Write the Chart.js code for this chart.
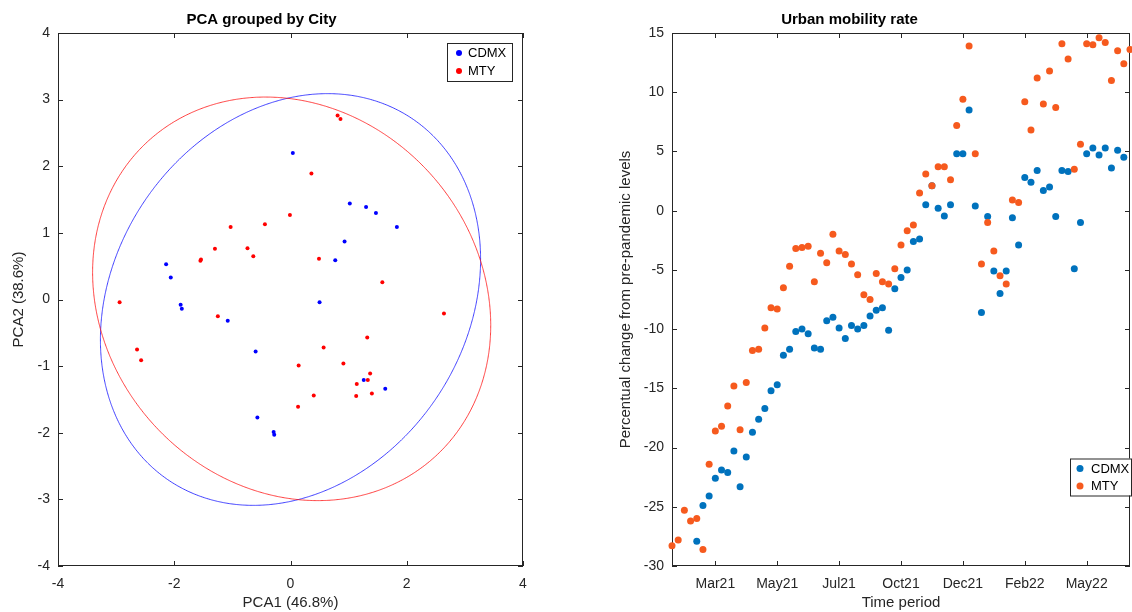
<!DOCTYPE html>
<html>
<head>
<meta charset="utf-8">
<title>PCA and urban mobility</title>
<script src="https://cdn.jsdelivr.net/npm/chart.js@4.4.1/dist/chart.umd.min.js"></script>
<style>
  html, body { margin: 0; padding: 0; background: #fff; overflow: hidden; }
  #wrap { position: relative; width: 1132px; height: 612px; overflow: hidden; }
  .panel { position: absolute; top: 0; }
  #pcaPanel { left: 0; }
  #mobilityPanel { left: 566px; }
</style>
</head>
<body>
<div id="wrap">
  <div class="panel" id="pcaPanel"><canvas id="pcaChart" width="566" height="612"></canvas></div>
  <div class="panel" id="mobilityPanel"><canvas id="mobilityChart" width="568" height="612"></canvas></div>
</div>
<script>
const FONT = '"Liberation Sans", Arial, Helvetica, sans-serif';
const AXIS_COLOR = '#262626';

// PCA scores, one point per observation
const cdmxPC1 = [0.04, 1.02, 1.30, 1.47, 1.83, 0.93, 0.77, -2.14, -2.06, -1.89, -1.87, -1.08, 0.50, -0.60, -0.57, -0.29, -0.28, 1.26, 1.63];
const cdmxPC2 = [2.20, 1.44, 1.39, 1.30, 1.09, 0.87, 0.59, 0.53, 0.33, -0.08, -0.14, -0.32, -0.04, -0.78, -1.77, -1.99, -2.03, -1.21, -1.34];
const mtyPC1 = [0.81, 0.86, 0.36, -0.01, -1.03, -0.44, -1.30, -0.74, -0.64, -1.55, -1.54, 0.49, -2.94, -1.25, 1.58, 2.64, -2.64, -2.57, 0.14, 0.40, 0.13, 1.32, 0.57, 0.91, 1.37, 1.33, 1.14, 1.13, 1.40];
const mtyPC2 = [2.76, 2.71, 1.89, 1.27, 1.09, 1.13, 0.76, 0.77, 0.65, 0.58, 0.60, 0.61, -0.04, -0.25, 0.26, -0.21, -0.75, -0.91, -0.99, -1.44, -1.61, -0.57, -0.72, -0.96, -1.11, -1.21, -1.27, -1.45, -1.41];

// confidence ellipses: [centre x, centre y, semi-major, semi-minor, rotation in degrees]
const cdmxEllipse = [0.0, 0.0, 3.49, 2.84, 36.9];
const mtyEllipse = [0.02, 0.01, 3.51, 2.93, -23.4];

// weekly mobility change (%), week 0 = first week of the series
const mobilityTickWeeks = [7, 17, 27, 37, 47, 57, 67];
const mobilityTickLabels = ['Mar21', 'May21', 'Jul21', 'Oct21', 'Dec21', 'Feb22', 'May22'];
const cdmxMobility = [
  null, null, null, null, -27.9, -24.9, -24.1, -22.6, -21.9, -22.1,
  -20.3, -23.3, -20.8, -18.7, -17.6, -16.7, -15.2, -14.7, -12.2, -11.7,
  -10.2, -10.0, -10.4, -11.6, -11.7, -9.3, -9.0, -9.9, -10.8, -9.7,
  -10.0, -9.7, -8.9, -8.4, -8.2, -10.1, -6.6, -5.65, -5.0, -2.6,
  -2.4, 0.5, 2.1, 0.2, -0.45, 0.5, 4.8, 4.8, 8.5, 0.4,
  -8.6, -0.5, -5.1, -7.0, -5.1, -0.6, -2.9, 2.8, 2.4, 3.4,
  1.7, 2.0, -0.5, 3.4, 3.3, -4.9, -1.0, 4.8, 5.3, 4.7,
  5.3, 3.6, 5.1, 4.5, null
];
const mtyMobility = [
  -28.3, -27.8, -25.3, -26.2, -26.0, -28.6, -21.4, -18.6, -18.2, -16.5,
  -14.8, -18.5, -14.5, -11.8, -11.7, -9.9, -8.2, -8.3, -6.5, -4.7,
  -3.2, -3.1, -3.0, -6.0, -3.6, -4.4, -2.0, -3.4, -3.7, -4.5,
  -5.4, -7.1, -7.5, -5.3, -6.0, -6.2, -4.9, -2.9, -1.7, -1.2,
  1.5, 3.1, 2.1, 3.7, 3.7, 2.6, 7.2, 9.4, 13.9, 4.8,
  -4.5, -1.0, -3.4, -5.5, -6.2, 0.9, 0.7, 9.2, 6.8, 11.2,
  9.0, 11.8, 8.7, 14.1, 12.8, 3.5, 5.6, 14.1, 14.0, 14.6,
  14.2, 11.0, 13.5, 12.4, 13.6
];

function toPoints(xs, ys) {
  return xs.map((x, i) => ({ x: x, y: ys[i] }));
}

function weeklyPoints(values) {
  const pts = [];
  values.forEach((v, i) => {
    if (v !== null) pts.push({ x: i, y: v });
  });
  return pts;
}

function ellipseOutline([cx, cy, a, b, deg]) {
  const th = deg * Math.PI / 180;
  const pts = [];
  for (let k = 0; k <= 180; k++) {
    const t = k / 180 * 2 * Math.PI;
    pts.push({
      x: cx + a * Math.cos(t) * Math.cos(th) - b * Math.sin(t) * Math.sin(th),
      y: cy + a * Math.cos(t) * Math.sin(th) + b * Math.sin(t) * Math.cos(th),
    });
  }
  return pts;
}

// box around the plot area with inward ticks on all four sides
const boxAxes = {
  id: 'boxAxes',
  beforeDatasetsDraw(chart) {
    const { ctx, chartArea: a, scales: { x, y } } = chart;
    const len = 5;
    ctx.save();
    ctx.strokeStyle = AXIS_COLOR;
    ctx.lineWidth = 1;
    ctx.beginPath();
    x.ticks.forEach(t => {
      const px = Math.round(x.getPixelForValue(t.value)) + 0.5;
      ctx.moveTo(px, a.bottom);
      ctx.lineTo(px, a.bottom - len);
      ctx.moveTo(px, a.top);
      ctx.lineTo(px, a.top + len);
    });
    y.ticks.forEach(t => {
      const py = Math.round(y.getPixelForValue(t.value)) + 0.5;
      ctx.moveTo(a.left, py);
      ctx.lineTo(a.left + len, py);
      ctx.moveTo(a.right, py);
      ctx.lineTo(a.right - len, py);
    });
    ctx.stroke();
    ctx.strokeRect(a.left + 0.5, a.top + 0.5, a.right - a.left - 1, a.bottom - a.top - 1);
    ctx.restore();
  }
};

// small framed legend drawn at a fixed spot inside the axes
const boxLegend = {
  id: 'boxLegend',
  afterDatasetsDraw(chart, args, opts) {
    const { ctx } = chart;
    ctx.save();
    ctx.fillStyle = '#fff';
    ctx.fillRect(opts.left, opts.top, opts.width, opts.height);
    ctx.strokeStyle = AXIS_COLOR;
    ctx.lineWidth = 1;
    ctx.strokeRect(opts.left + 0.5, opts.top + 0.5, opts.width, opts.height);
    ctx.font = '13px ' + FONT;
    ctx.textBaseline = 'middle';
    chart.data.datasets.filter(d => d.inLegend).forEach((d, i) => {
      const cy = opts.top + opts.firstRow + i * opts.rowGap;
      ctx.fillStyle = d.backgroundColor;
      ctx.beginPath();
      ctx.arc(opts.left + opts.dotX, cy, opts.radius, 0, Math.PI * 2);
      ctx.fill();
      ctx.fillStyle = '#000';
      ctx.fillText(d.label, opts.left + opts.textX, cy + 0.5);
    });
    ctx.restore();
  }
};

function tickFont() {
  return { family: FONT, size: 14 };
}

function labelFont() {
  return { family: FONT, size: 15 };
}

new Chart(document.getElementById('pcaChart'), {
  type: 'scatter',
  data: {
    datasets: [
      {
        label: 'CDMX',
        inLegend: true,
        order: 3,
        data: toPoints(cdmxPC1, cdmxPC2),
        backgroundColor: '#0000ff',
        pointRadius: 2,
        pointBorderWidth: 0,
      },
      {
        label: 'MTY',
        inLegend: true,
        order: 2,
        data: toPoints(mtyPC1, mtyPC2),
        backgroundColor: '#ff0000',
        pointRadius: 2,
        pointBorderWidth: 0,
      },
      {
        label: 'CDMX ellipse',
        order: 1,
        data: ellipseOutline(cdmxEllipse),
        showLine: true,
        borderColor: 'rgba(0, 0, 255, 0.75)',
        borderWidth: 1,
        tension: 0.001, // keeps the full path; the fast path assumes x-sorted data
        pointRadius: 0,
        fill: false,
      },
      {
        label: 'MTY ellipse',
        order: 0,
        data: ellipseOutline(mtyEllipse),
        showLine: true,
        borderColor: 'rgba(255, 0, 0, 0.75)',
        borderWidth: 1,
        tension: 0.001,
        pointRadius: 0,
        fill: false,
      },
    ],
  },
  options: {
    responsive: false,
    animation: false,
    layout: { padding: { left: 0, right: 43, top: 0, bottom: 0 } },
    plugins: {
      legend: { display: false },
      tooltip: { enabled: false },
      title: {
        display: true,
        text: 'PCA grouped by City',
        color: '#000',
        font: { family: FONT, size: 15, weight: 'bold' },
        padding: { top: 11, bottom: 4 },
      },
      boxLegend: { left: 447, top: 43, width: 65, height: 38, firstRow: 10, rowGap: 18, dotX: 12, textX: 21, radius: 3 },
    },
    scales: {
      x: {
        type: 'linear',
        min: -4,
        max: 4,
        afterFit: s => { s.height = 46; },
        grid: { display: false, drawTicks: false },
        border: { display: false },
        ticks: { stepSize: 2, color: AXIS_COLOR, font: tickFont(), padding: 10, maxRotation: 0 },
        title: { display: true, text: 'PCA1 (46.8%)', color: AXIS_COLOR, font: labelFont(), padding: { top: 0, bottom: 0 } },
      },
      y: {
        type: 'linear',
        min: -4,
        max: 4,
        afterFit: s => { s.width = 58; },
        grid: { display: false, drawTicks: false },
        border: { display: false },
        ticks: { stepSize: 1, color: AXIS_COLOR, font: tickFont(), padding: 8 },
        title: { display: true, text: 'PCA2 (38.6%)', color: AXIS_COLOR, font: labelFont(), padding: { top: 10, bottom: 0 } },
      },
    },
  },
  plugins: [boxAxes, boxLegend],
});

new Chart(document.getElementById('mobilityChart'), {
  type: 'scatter',
  data: {
    datasets: [
      {
        label: 'CDMX',
        inLegend: true,
        order: 1,
        data: weeklyPoints(cdmxMobility),
        backgroundColor: '#0072bd',
        pointRadius: 3.5,
        pointBorderWidth: 0,
        clip: false,
      },
      {
        label: 'MTY',
        inLegend: true,
        order: 0,
        data: weeklyPoints(mtyMobility),
        backgroundColor: '#f65a1e',
        pointRadius: 3.5,
        pointBorderWidth: 0,
        clip: false,
      },
    ],
  },
  options: {
    responsive: false,
    animation: false,
    layout: { padding: { left: 0, right: 1, top: 0, bottom: 0 } },
    plugins: {
      legend: { display: false },
      tooltip: { enabled: false },
      title: {
        display: true,
        text: 'Urban mobility rate',
        color: '#000',
        font: { family: FONT, size: 15, weight: 'bold' },
        padding: { top: 11, bottom: 4 },
      },
      boxLegend: { left: 504, top: 458.5, width: 61, height: 37, firstRow: 10, rowGap: 17.5, dotX: 10, textX: 21, radius: 3.5 },
    },
    scales: {
      x: {
        type: 'linear',
        min: 0,
        max: 74,
        afterFit: s => { s.height = 46; },
        afterBuildTicks: s => { s.ticks = mobilityTickWeeks.map(v => ({ value: v })); },
        grid: { display: false, drawTicks: false },
        border: { display: false },
        ticks: {
          color: AXIS_COLOR,
          font: tickFont(),
          padding: 10,
          maxRotation: 0,
          autoSkip: false,
          callback: (value, index) => mobilityTickLabels[index],
        },
        title: { display: true, text: 'Time period', color: AXIS_COLOR, font: labelFont(), padding: { top: 0, bottom: 0 } },
      },
      y: {
        type: 'linear',
        min: -30,
        max: 15,
        afterFit: s => { s.width = 106; },
        grid: { display: false, drawTicks: false },
        border: { display: false },
        ticks: { stepSize: 5, color: AXIS_COLOR, font: tickFont(), padding: 8 },
        title: {
          display: true,
          text: 'Percentual change from pre-pandemic levels',
          color: AXIS_COLOR,
          font: labelFont(),
          padding: { top: 51, bottom: 0 },
        },
      },
    },
  },
  plugins: [boxAxes, boxLegend],
});
</script>
</body>
</html>
